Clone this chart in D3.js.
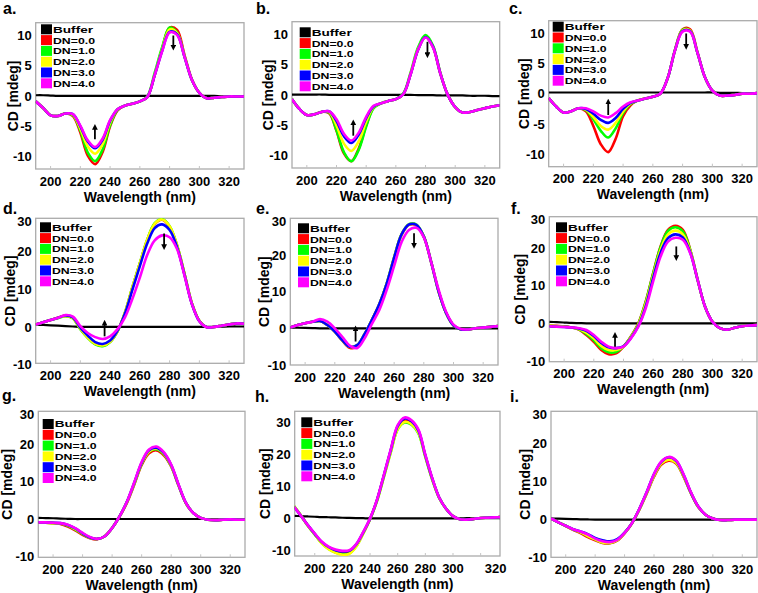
<!DOCTYPE html>
<html><head><meta charset="utf-8">
<script src="https://cdnjs.cloudflare.com/ajax/libs/d3/7.8.5/d3.min.js"></script>
<style>body{margin:0;background:#fff}svg{display:block}text{font-family:"Liberation Sans",Arial,sans-serif;font-weight:bold;fill:#000}</style>
</head><body><svg id="c" width="758" height="593"></svg>
<script>
// ---- data ----
const wl = [190,195,200,205,210,215,220,225,230,235,240,245,250,255,260,265,270,275,280,285,290,295,300,305,310,315,320,325,330];
const wlH = [185,190,195,200,205,210,215,220,225,230,235,240,245,250,255,260,265,270,275,280,285,290,295,300,305,310,315,320,325,330,335];
const seriesNames = ["Buffer","DN=0.0","DN=1.0","DN=2.0","DN=3.0","DN=4.0"];
const seriesColors = ["#000000","#ff0000","#00ff00","#ffff00","#0000ff","#ff00ff"];
const xTicks = [200,220,240,260,280,300,320];

const aBuffer = [0.1,0.1,0.05,0,0,0,0,0,0,0,0,0,0,0,0,0,0,0,0,0,0,0,0,0,0,-0.05,-0.05,-0.05,-0.05];
const aDN0 = [-0.9,-2.0,-3.2,-3.3,-2.9,-3.3,-6.0,-9.8,-11.2,-9.2,-5.0,-2.4,-1.6,-1.3,-0.9,-0.2,3.5,7.7,11.2,10.8,6.7,2.7,0.5,-0.4,-0.3,-0.2,-0.1,-0.1,-0.1];
const aDN1 = [-0.9,-2.0,-3.2,-3.3,-2.9,-3.2,-5.7,-9.3,-10.7,-8.8,-4.8,-2.3,-1.6,-1.3,-0.9,-0.1,3.8,8.0,11.2,10.4,6.5,2.6,0.5,-0.4,-0.3,-0.2,-0.1,-0.1,-0.1];
const aDN2 = [-0.9,-2.0,-3.2,-3.3,-2.9,-3.1,-5.4,-8.3,-9.5,-7.9,-4.4,-2.2,-1.6,-1.3,-0.9,-0.2,3.5,7.6,10.9,10.3,6.5,2.6,0.5,-0.4,-0.3,-0.2,-0.1,-0.1,-0.1];
const aDN3 = [-0.9,-2.0,-3.2,-3.3,-2.9,-3.0,-5.0,-7.5,-8.6,-7.2,-4.1,-2.2,-1.6,-1.3,-0.9,-0.2,3.4,7.4,10.5,10.1,6.4,2.6,0.5,-0.4,-0.3,-0.2,-0.1,-0.1,-0.1];
const aDN4 = [-0.9,-2.0,-3.2,-3.3,-2.9,-3.0,-4.9,-7.3,-8.4,-7.0,-4.0,-2.2,-1.6,-1.3,-0.9,-0.2,3.4,7.3,10.4,10.0,6.4,2.6,0.5,-0.4,-0.3,-0.2,-0.1,-0.1,-0.1];

const bBuffer = [0.05,0.05,0.05,0.05,0.05,0,0,0,0,0,0,0,0,0,0,0,0,-0.05,-0.05,-0.05,-0.1,-0.1,-0.1,-0.1,-0.15,-0.15,-0.15,-0.2,-0.2];
const bDN0 = [-0.7,-2.3,-3.3,-3.2,-2.8,-3.0,-5.9,-9.6,-10.9,-8.8,-5.0,-2.1,-1.4,-1.0,-0.7,0.1,3.5,7.5,9.5,7.9,3.5,0.0,-2.0,-2.9,-2.8,-2.5,-2.2,-1.9,-1.7];
const bDN1 = [-0.7,-2.3,-3.3,-3.2,-2.8,-2.9,-5.8,-9.4,-10.9,-9.0,-5.2,-2.2,-1.4,-1.0,-0.7,0.2,3.7,7.8,9.8,8.1,3.6,0.0,-2.0,-2.9,-2.8,-2.5,-2.2,-1.9,-1.7];
const bDN2 = [-0.7,-2.3,-3.3,-3.2,-2.8,-2.8,-5.0,-8.0,-9.2,-7.6,-4.4,-2.0,-1.4,-1.0,-0.7,0.1,3.5,7.5,9.5,7.9,3.5,0.0,-2.0,-2.9,-2.8,-2.5,-2.2,-1.9,-1.7];
const bDN3 = [-0.7,-2.3,-3.3,-3.2,-2.8,-2.7,-4.3,-6.8,-7.9,-6.5,-3.8,-1.9,-1.4,-1.0,-0.7,0.1,3.4,7.4,9.5,7.9,3.5,0.0,-2.0,-2.9,-2.8,-2.5,-2.2,-1.9,-1.7];
const bDN4 = [-0.7,-2.3,-3.3,-3.2,-2.8,-2.7,-4.0,-6.4,-7.5,-6.2,-3.6,-1.8,-1.4,-1.0,-0.7,0.1,3.4,7.4,9.4,7.8,3.5,0.0,-2.0,-2.9,-2.8,-2.5,-2.2,-1.9,-1.7];

const cBuffer = [0.2,0.2,0.2,0.2,0.2,0.2,0.2,0.2,0.2,0.2,0.2,0.2,0.2,0.2,0.2,0.2,0.2,0.2,0.2,0.2,0.2,0.2,0.2,0.15,0.15,0.15,0.1,0.1,0.1];
const cDN0 = [-0.7,-2.1,-3.1,-2.9,-2.4,-2.9,-5.3,-8.3,-9.6,-7.4,-3.7,-1.9,-1.1,-0.8,-0.5,0.0,2.6,7.3,10.6,10.6,6.8,2.7,0.5,-0.3,-0.3,-0.2,0.0,0.0,0.1];
const cDN1 = [-0.7,-2.1,-3.1,-2.9,-2.4,-2.7,-4.2,-6.1,-7.2,-5.7,-3.2,-1.7,-1.1,-0.8,-0.5,0.0,2.6,7.3,10.5,10.4,6.7,2.7,0.5,-0.3,-0.3,-0.2,0.0,0.0,0.1];
const cDN2 = [-0.7,-2.1,-3.1,-2.9,-2.4,-2.6,-3.8,-5.3,-5.9,-4.8,-2.9,-1.6,-1.1,-0.8,-0.5,0.0,2.6,7.2,10.4,10.4,6.7,2.7,0.5,-0.3,-0.3,-0.2,0.0,0.0,0.1];
const cDN3 = [-0.7,-2.1,-3.1,-2.9,-2.4,-2.5,-3.3,-4.3,-4.8,-4.0,-2.5,-1.5,-1.1,-0.8,-0.5,0.0,2.6,7.2,10.3,10.3,6.7,2.7,0.5,-0.3,-0.3,-0.2,0.0,0.0,0.1];
const cDN4 = [-0.7,-2.1,-3.1,-2.9,-2.4,-2.4,-2.9,-3.6,-3.9,-3.2,-2.1,-1.4,-1.1,-0.8,-0.5,0.0,2.6,7.2,10.2,10.2,6.7,2.7,0.5,-0.3,-0.3,-0.2,0.0,0.0,0.1];

const dBuffer = [0.6,0.5,0.4,0.3,0.2,0.1,0,0,0,0,0,0,0,0,0,0,0,0,0,0,0,0,0,0,0,0.05,0.1,0.1,0.1];
const dDN0 = [0.6,1.2,1.8,2.4,2.9,2.3,-0.5,-2.8,-4.5,-4.9,-3.9,-1.1,3.7,10.4,16.7,22.9,27.1,28.2,26.4,21.4,14.0,6.2,1.6,-0.1,0.0,0.3,0.6,0.9,0.8];
const dDN1 = [0.6,1.2,1.8,2.3,2.8,2.2,-0.6,-2.9,-4.6,-5.1,-4.0,-1.2,3.8,10.5,16.8,23.0,27.3,28.4,26.5,21.5,14.0,6.2,1.6,-0.1,0.0,0.3,0.6,0.9,0.8];
const dDN2 = [0.6,1.2,1.8,2.4,2.9,2.3,-0.5,-2.8,-4.5,-4.9,-3.9,-1.1,3.8,10.5,16.8,23.0,27.2,28.3,26.5,21.5,14.0,6.2,1.6,-0.1,0.0,0.3,0.6,0.9,0.8];
const dDN3 = [0.6,1.2,1.8,2.4,3.0,2.5,-0.2,-2.3,-4.0,-4.5,-3.6,-1.0,3.5,9.8,16.0,22.0,26.0,27.0,25.5,21.0,13.7,6.0,1.5,-0.1,0.0,0.3,0.6,0.9,0.8];
const dDN4 = [0.6,1.2,1.8,2.4,3.1,2.7,0.2,-1.6,-2.7,-3.2,-2.5,-0.6,2.5,7.4,13.0,19.0,22.8,24.1,23.6,20.5,13.5,6.0,1.5,-0.1,0.0,0.3,0.6,0.9,0.8];

const eBuffer = [0.2,0.15,0.1,0.05,0,0,0,0,0,0,0,0,0,0,0,0,0,0,0,0,0,0,0,0,0,0,0,0,0];
const eDN0 = [0.2,0.9,1.4,1.8,2.0,0.9,-0.9,-3.3,-5.3,-5.0,-1.8,2.2,6.5,12.1,19.2,25.5,28.2,28.1,25.0,18.0,10.0,4.2,0.8,-0.3,-0.3,0.0,0.2,0.4,0.6];
const eDN1 = [0.2,0.9,1.4,1.8,2.0,0.9,-0.9,-3.2,-5.0,-4.6,-1.6,2.3,6.6,12.3,19.4,25.7,28.4,28.3,25.1,18.0,10.0,4.2,0.8,-0.3,-0.3,0.0,0.2,0.4,0.6];
const eDN2 = [0.2,0.9,1.4,1.8,2.0,0.9,-0.9,-3.2,-5.0,-4.6,-1.6,2.3,6.6,12.2,19.3,25.6,28.3,28.2,25.0,18.0,10.0,4.2,0.8,-0.3,-0.3,0.0,0.2,0.4,0.6];
const eDN3 = [0.2,0.9,1.4,1.8,2.0,0.9,-0.9,-3.2,-5.0,-4.6,-1.6,2.3,6.6,12.2,19.3,25.6,28.3,28.2,25.0,18.0,10.0,4.2,0.8,-0.3,-0.3,0.0,0.2,0.4,0.6];
const eDN4 = [0.2,0.9,1.4,1.8,2.5,1.8,0.0,-2.3,-4.7,-5.4,-2.8,1.2,5.0,10.5,17.0,23.5,26.8,27.4,24.8,18.0,10.5,4.5,1.0,-0.2,-0.3,0.0,0.2,0.4,0.6];

const fBuffer = [0.4,0.3,0.2,0.1,0.05,0,0,0,0,0,0,0,0,0,0,0,0,0,0,0,0,0,0,0,0,0,0,0,0];
const fDN0 = [-0.6,-0.7,-0.8,-1.1,-1.7,-3.1,-4.9,-7.1,-8.2,-8.0,-6.2,-3.5,0.0,5.8,13.3,20.4,24.8,25.9,24.8,19.5,11.5,4.4,0.4,-1.3,-1.7,-1.2,-0.8,-0.6,-0.5];
const fDN1 = [-0.7,-0.8,-0.9,-1.1,-1.6,-2.8,-4.5,-6.6,-7.7,-7.6,-6.2,-3.6,-0.2,5.6,13.2,20.2,24.5,25.5,24.4,19.4,11.5,4.4,0.4,-1.3,-1.7,-1.2,-0.8,-0.6,-0.5];
const fDN2 = [-0.7,-0.8,-0.9,-1.1,-1.5,-2.5,-4.0,-6.0,-7.1,-7.1,-6.2,-3.7,-0.4,5.2,12.6,19.5,23.6,24.6,23.6,19.2,11.5,4.4,0.4,-1.3,-1.7,-1.2,-0.8,-0.6,-0.5];
const fDN3 = [-0.8,-0.9,-1.0,-1.1,-1.4,-2.0,-3.4,-5.2,-6.4,-6.6,-6.1,-3.9,-0.7,4.5,12.0,18.7,22.6,23.6,22.8,18.8,11.5,4.4,0.4,-1.3,-1.7,-1.2,-0.8,-0.6,-0.5];
const fDN4 = [-0.8,-0.9,-1.0,-1.1,-1.3,-1.8,-3.1,-4.9,-6.2,-6.6,-6.2,-4.0,-0.9,4.0,11.1,17.7,21.7,22.7,22.2,18.6,11.5,4.4,0.4,-1.3,-1.7,-1.2,-0.8,-0.6,-0.5];

const gBuffer = [0.3,0.25,0.2,0.1,0.05,0,0,0,0,0,0,0,0,0,0,0,0,0,0,0,0,0,0,0,0,0,0,0,0];
const gDN0 = [-1.0,-1.0,-1.1,-1.3,-2.0,-3.0,-4.2,-5.1,-5.4,-4.6,-2.4,0.6,4.3,9.2,14.4,17.5,18.3,17.0,14.0,8.9,4.2,1.6,0.3,-0.2,-0.3,-0.2,-0.1,-0.2,-0.2];
const gDN1 = [-1.0,-1.0,-1.1,-1.2,-1.8,-2.8,-4.0,-5.0,-5.3,-4.6,-2.4,0.7,4.5,9.4,14.7,17.9,18.6,17.3,14.1,9.0,4.2,1.6,0.3,-0.2,-0.3,-0.2,-0.1,-0.2,-0.2];
const gDN2 = [-1.0,-1.0,-1.1,-1.2,-1.7,-2.7,-3.9,-5.0,-5.3,-4.6,-2.4,0.7,4.5,9.5,14.8,18.0,18.8,17.4,14.2,9.0,4.2,1.6,0.3,-0.2,-0.3,-0.2,-0.1,-0.2,-0.2];
const gDN3 = [-0.9,-0.9,-1.0,-1.1,-1.6,-2.5,-3.8,-4.9,-5.3,-4.6,-2.4,0.7,4.6,9.7,15.0,18.3,19.0,17.6,14.4,9.1,4.3,1.6,0.3,-0.2,-0.3,-0.2,-0.1,-0.2,-0.2];
const gDN4 = [-0.9,-0.9,-1.0,-1.1,-1.5,-2.4,-3.7,-4.8,-5.3,-4.6,-2.4,0.7,4.6,9.8,15.2,18.5,19.3,17.8,14.5,9.2,4.3,1.6,0.3,-0.2,-0.3,-0.2,-0.1,-0.2,-0.2];

const hBuffer = [0.8,0.7,0.6,0.5,0.4,0.35,0.3,0.2,0.15,0.1,0.05,0,0,0,0,0,0,0,0,0,0,0,0,0,0,0.05,0.05,0.1,0.1,0.1,0.1];
const hDN0 = [3.7,0.9,-2.2,-4.9,-7.5,-9.2,-10.2,-10.7,-10.5,-8.4,-4.6,-0.2,5.6,13.2,21.0,28.2,30.4,29.7,26.9,19.4,12.2,6.4,3.0,0.7,-0.3,-0.4,-0.2,0.1,0.2,0.3,0.4];
const hDN1 = [3.8,0.9,-2.3,-5.0,-7.7,-9.5,-10.6,-11.1,-10.9,-8.7,-4.7,-0.3,5.4,12.9,20.6,27.7,29.8,29.1,26.4,19.1,12.0,6.4,3.0,0.7,-0.3,-0.4,-0.2,0.1,0.2,0.3,0.4];
const hDN2 = [3.8,0.9,-2.3,-5.0,-7.8,-9.6,-10.7,-11.3,-11.0,-8.8,-4.8,-0.3,5.4,12.9,20.6,27.8,30.0,29.3,26.6,19.2,12.1,6.4,3.0,0.7,-0.3,-0.4,-0.2,0.1,0.2,0.3,0.4];
const hDN3 = [3.6,0.8,-2.1,-4.8,-7.3,-8.9,-9.9,-10.3,-10.1,-8.1,-4.4,-0.1,5.7,13.4,21.3,28.7,31.1,30.2,27.3,19.6,12.4,6.5,3.0,0.7,-0.3,-0.4,-0.2,0.1,0.2,0.3,0.4];
const hDN4 = [3.6,0.8,-2.1,-4.7,-7.2,-8.8,-9.7,-10.1,-9.9,-8.0,-4.3,0.0,5.8,13.5,21.5,29.0,31.4,30.5,27.6,19.8,12.5,6.5,3.0,0.7,-0.3,-0.4,-0.2,0.1,0.2,0.3,0.4];

const iBuffer = [0.3,0.25,0.2,0.15,0.1,0.05,0.02,0,0,0,0,0,0,0,0,0,0,0,0,0,0,0,0,0,0,0,0,0,0];
const iDN0 = [0.3,-0.7,-1.7,-2.7,-3.5,-4.6,-5.4,-6.1,-6.2,-5.5,-3.6,-1.0,2.6,6.8,11.3,14.5,15.5,14.8,11.4,7.0,3.4,1.3,0.3,-0.1,-0.1,0.0,0.0,0.0,0.0];
const iDN1 = [0.3,-0.7,-1.6,-2.6,-3.3,-4.3,-5.2,-6.0,-6.1,-5.4,-3.5,-0.9,2.7,7.0,11.6,14.8,15.9,15.0,11.6,7.1,3.4,1.3,0.3,-0.1,-0.1,0.0,0.0,0.0,0.0];
const iDN2 = [0.3,-0.7,-1.6,-2.6,-3.3,-4.3,-5.2,-6.0,-6.1,-5.4,-3.5,-0.9,2.7,7.0,11.6,14.8,15.8,15.0,11.6,7.1,3.4,1.3,0.3,-0.1,-0.1,0.0,0.0,0.0,0.0];
const iDN3 = [0.3,-0.7,-1.6,-2.5,-3.1,-3.8,-4.8,-5.4,-5.7,-5.1,-3.4,-0.9,2.8,7.2,12.0,15.2,16.4,15.5,11.9,7.2,3.5,1.3,0.3,-0.1,-0.1,0.0,0.0,0.0,0.0];
const iDN4 = [0.3,-0.7,-1.6,-2.5,-3.1,-3.9,-5.0,-5.7,-5.9,-5.3,-3.5,-0.9,2.8,7.2,12.0,15.3,16.5,15.6,12.0,7.3,3.5,1.3,0.3,-0.1,-0.1,0.0,0.0,0.0,0.0];

// arrows: [wavelength, tail value, head value]
const aArrows = [[229.8,-7.1,-5.1],[282.5,9.9,7.9]];
const bArrows = [[231.3,-6.7,-4.5],[281.3,8.7,6.5]];
const cArrows = [[230,-3.5,-1.3],[282.4,9.9,7.7]];
const dArrows = [[236.3,-2.5,1.1],[276.3,24.6,21.0]];
const eArrows = [[234,-3.6,0],[273.4,25.9,22.5]];
const fArrows = [[234.3,-6.2,-3.1],[275.6,20.4,17.3]];

// ---- layout ----
const panels = [
 {lab:"a.", lx:3, ly:14, f:[35.7,22.7,244,169], xd:[190,330], yd:[-12,12], yt:[-10,-5,0,5,10], w:wl, s:[aBuffer,aDN0,aDN1,aDN2,aDN3,aDN4], ar:aArrows, lg:[41,29.3], cx:12.5},
 {lab:"b.", lx:256, ly:14, f:[292,21.7,499.7,168], xd:[190,330], yd:[-12,12], yt:[-10,-5,0,5,10], w:wl, s:[bBuffer,bDN0,bDN1,bDN2,bDN3,bDN4], ar:bArrows, lg:[299.7,32.3], cx:268},
 {lab:"c.", lx:509, ly:14, f:[548.7,20.7,757,166.7], xd:[190,330], yd:[-12,12], yt:[-10,-5,0,5,10], w:wl, s:[cBuffer,cDN0,cDN1,cDN2,cDN3,cDN4], ar:cArrows, lg:[552.7,26.7], cx:523.5},
 {lab:"d.", lx:3, ly:214, f:[35.7,218.3,244,363.3], xd:[190,330], yd:[-9.6,28.6], yt:[-10,0,10,20,30], w:wl, s:[dBuffer,dDN0,dDN1,dDN2,dDN3,dDN4], ar:dArrows, lg:[40,227.3], cx:9.5},
 {lab:"e.", lx:256, ly:214, f:[290.3,218.3,498,365], xd:[190,330], yd:[-10,30], yt:[-10,0,10,20,30], w:wl, s:[eBuffer,eDN0,eDN1,eDN2,eDN3,eDN4], ar:eArrows, lg:[298,228.3], cx:264},
 {lab:"f.", lx:511, ly:214, f:[549.3,216.7,757,361.7], xd:[190,330], yd:[-10.2,28.3], yt:[-10,0,10,20,30], w:wl, s:[fBuffer,fDN0,fDN1,fDN2,fDN3,fDN4], ar:fArrows, lg:[556,227.3], cx:520},
 {lab:"g.", lx:2, ly:401, f:[38.3,411.3,245,557.3], xd:[190,330], yd:[-10.2,28.7], yt:[-10,0,10,20,30], w:wl, s:[gBuffer,gDN0,gDN1,gDN2,gDN3,gDN4], ar:[], lg:[42.7,424], cx:6.5},
 {lab:"h.", lx:255, ly:402, f:[294.7,411.3,500,556], xd:[185.5,334], yd:[-11.7,33.3], yt:[-10,0,10,20,30], w:wlH, s:[hBuffer,hDN0,hDN1,hDN2,hDN3,hDN4], ar:[], lg:[301.3,422.3], cx:264.5, shift320:15},
 {lab:"i.", lx:510, ly:402, f:[551,411.3,757,557.3], xd:[190,330], yd:[-9.9,28.5], yt:[-10,0,10,20,30], w:wl, s:[iBuffer,iDN0,iDN1,iDN2,iDN3,iDN4], ar:[], lg:null, cx:525}
];

const svg = d3.select("#c");
const defs = svg.append("defs");
defs.append("marker").attr("id","ah").attr("viewBox","0 0 10 10").attr("refX",5).attr("refY",5)
  .attr("markerWidth",3.2).attr("markerHeight",3.2).attr("orient","auto")
  .append("path").attr("d","M0,0 L10,5 L0,10 z").attr("fill","#000");

panels.forEach((p,pi)=>{
  const [L,T,R,B] = p.f;
  const x = d3.scaleLinear().domain(p.xd).range([L,R]);
  const y = d3.scaleLinear().domain(p.yd).range([B,T]);
  const g = svg.append("g");
  defs.append("clipPath").attr("id","cp"+pi).append("rect").attr("x",L).attr("y",T).attr("width",R-L).attr("height",B-T);

  // frame
  g.append("rect").attr("x",L).attr("y",T).attr("width",R-L).attr("height",B-T)
    .attr("fill","#fff").attr("stroke","#ababab").attr("stroke-width",1.3);
  // x ticks
  g.selectAll(".xt").data(xTicks.filter(v=>v>=p.xd[0]&&v<=p.xd[1])).join("line")
    .attr("x1",d=>x(d)).attr("x2",d=>x(d)).attr("y1",B).attr("y2",B-3)
    .attr("stroke","#c4c4c4").attr("stroke-width",1);
  g.selectAll(".xl").data(xTicks).join("text")
    .attr("x",d=>x(d)+(d===320&&p.shift320?p.shift320:0)).attr("y",B+16.5)
    .attr("text-anchor","middle").style("font-size","13px").text(d=>d);
  // y labels
  g.selectAll(".yl").data(p.yt).join("text")
    .attr("x",L-4).attr("y",d=>Math.max(y(d),T+3)).attr("dy","0.36em")
    .attr("text-anchor","end").style("font-size","13px").text(d=>d);
  // titles
  g.append("text").attr("x",(L+R)/2).attr("y",B+32.5).attr("text-anchor","middle")
    .style("font-size","14px").text("Wavelength (nm)");
  g.append("text").attr("transform",`translate(${p.cx},${(T+B)/2}) rotate(-90)`).attr("dy","0.36em")
    .attr("text-anchor","middle").style("font-size","14px").text("CD [mdeg]");
  g.append("text").attr("x",p.lx).attr("y",p.ly).style("font-size","16px").text(p.lab);

  // curves
  const line = d3.line().x((d,i)=>x(p.w[i])).y(d=>y(d)).curve(d3.curveCatmullRom.alpha(0.5));
  const cg = g.append("g").attr("clip-path",`url(#cp${pi})`);
  p.s.forEach((arr,si)=>{
    cg.append("path").attr("d",line(arr)).attr("fill","none")
      .attr("stroke",seriesColors[si]).attr("stroke-width",si===0?2.2:2.6)
      .attr("stroke-linejoin","round");
  });
  // arrows
  p.ar.forEach(a=>{
    g.append("line").attr("x1",x(a[0])).attr("x2",x(a[0])).attr("y1",y(a[1])).attr("y2",y(a[2]))
      .attr("stroke","#000").attr("stroke-width",1.8).attr("marker-end","url(#ah)");
  });
  // legend
  if(p.lg){
    const [lx,ly] = p.lg;
    seriesNames.forEach((n,si)=>{
      const yy = ly + si*10.8;
      g.append("rect").attr("x",lx).attr("y",yy-5).attr("width",11).attr("height",10).attr("fill",seriesColors[si]);
      g.append("text").attr("x",lx+12).attr("y",yy).attr("dy","0.36em").style("font-size","9.6px")
        .attr("textLength",si===0?40:42).attr("lengthAdjust","spacingAndGlyphs").text(n);
    });
  }
});
</script></body></html>
